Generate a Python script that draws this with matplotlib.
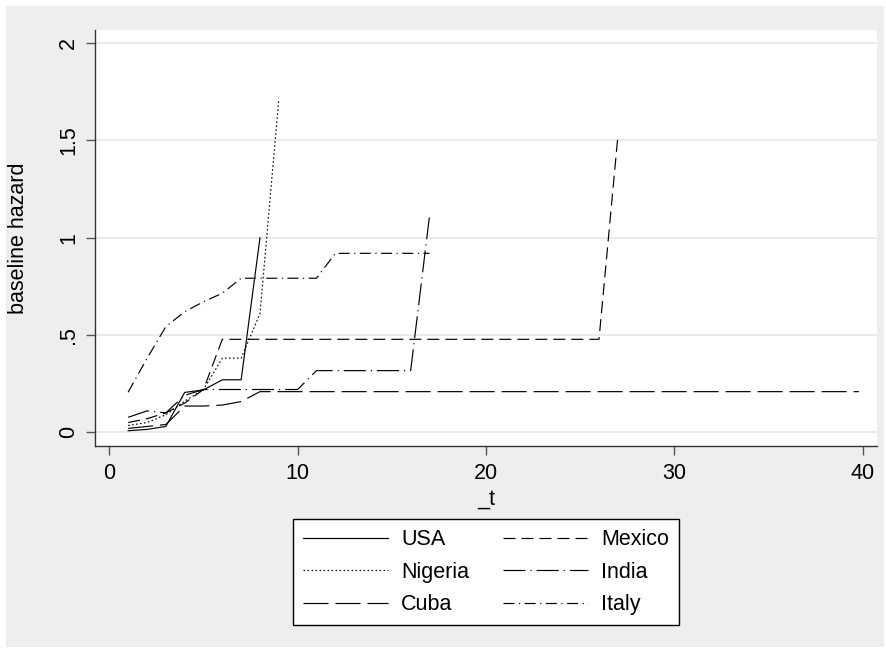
import matplotlib.pyplot as plt
from matplotlib.patches import Rectangle

plt.rcParams['font.family'] = ['Liberation Sans', 'DejaVu Sans']
plt.rcParams['lines.scale_dashes'] = False

# baseline hazard by country
usa_t = [1, 2, 3, 4, 5, 6, 7, 8]
usa_h = [0.008, 0.015, 0.03, 0.205, 0.218, 0.27, 0.27, 1.0]

nigeria_t = [1, 2, 3, 4, 5, 6, 7, 8, 9]
nigeria_h = [0.035, 0.05, 0.09, 0.16, 0.22, 0.381, 0.381, 0.61, 1.713]

cuba_t = [1, 2, 3, 4, 5, 6, 7, 8, 39.8]
cuba_h = [0.02, 0.03, 0.04, 0.135, 0.135, 0.14, 0.158, 0.209, 0.209]

mexico_t = [1, 2, 3, 4, 5, 6, 26, 27]
mexico_h = [0.05, 0.07, 0.10, 0.15, 0.22, 0.478, 0.478, 1.52]

india_t = [1, 2, 3, 4, 5, 10, 11, 16, 17]
india_h = [0.077, 0.11, 0.10, 0.19, 0.22, 0.22, 0.317, 0.317, 1.112]

italy_t = [1, 2, 3, 4, 5, 6, 7, 11, 12, 17]
italy_h = [0.206, 0.38, 0.543, 0.62, 0.671, 0.715, 0.792, 0.792, 0.92, 0.92]

yticks = [0, 0.5, 1, 1.5, 2]
ytick_labels = ['0', '.5', '1', '1.5', '2']
xticks = [0, 10, 20, 30, 40]

W, H = 887, 652
fs = 15.5
fig = plt.figure(figsize=(W / 100, H / 100), dpi=100, facecolor='white')
fig.patches.append(Rectangle((6 / W, 5 / H), 878 / W, 641 / H, transform=fig.transFigure,
                             facecolor='#eeeeee', edgecolor='none', zorder=-10))

ax = fig.add_axes([95 / W, (H - 446) / H, 782 / W, 416 / H])
ax.set_facecolor('white')

px = 0.72  # one pixel in points
series = [
    ('USA', usa_t, usa_h, '-'),
    ('Nigeria', nigeria_t, nigeria_h, (0, (1.6 * px, 2.4 * px))),
    ('Cuba', cuba_t, cuba_h, (0, (25 * px, 7 * px))),
    ('Mexico', mexico_t, mexico_h, (0, (12 * px, 6 * px))),
    ('India', india_t, india_h, (0, (22 * px, 5 * px, 1.2 * px, 5 * px))),
    ('Italy', italy_t, italy_h, (0, (11 * px, 4.5 * px, 1.2 * px, 4.5 * px))),
]
for name, t, h, ls in series:
    ax.plot(t, h, color='black', lw=0.85, linestyle=ls, label=name)

ax.set_xlim(-0.76, 40.76)
ax.set_ylim(-0.0704, 2.068)
ax.set_yticks(yticks)
ax.set_yticklabels(ytick_labels, rotation=90, va='center')
ax.set_xticks(xticks)
ax.grid(axis='y', color='#e6e6e6', lw=1.2)
ax.set_axisbelow(True)

for s in ['top', 'right']:
    ax.spines[s].set_visible(False)
for s in ['left', 'bottom']:
    ax.spines[s].set_color('#333333')
    ax.spines[s].set_linewidth(1.0)

ax.tick_params(axis='both', direction='out', length=6.5, width=1.0, color='#555555',
               labelsize=fs)
ax.tick_params(axis='y', pad=5)
ax.tick_params(axis='x', pad=6)

ax.set_xlabel('_t', fontsize=fs, labelpad=3)
ax.set_ylabel('baseline hazard', fontsize=fs)
ax.yaxis.set_label_coords(-0.084, 0.5)

leg = fig.legend(loc='center', bbox_to_anchor=(486 / W, 1 - 572.3 / H), ncol=2,
                 fontsize=fs, frameon=True, fancybox=False, framealpha=1,
                 edgecolor='black', facecolor='white', handlelength=3.95,
                 handletextpad=0.6, columnspacing=1.57, labelspacing=0.53,
                 borderpad=0.46)
leg.get_frame().set_linewidth(1.0)

fig.savefig('out.png', dpi=100, facecolor=fig.get_facecolor())
